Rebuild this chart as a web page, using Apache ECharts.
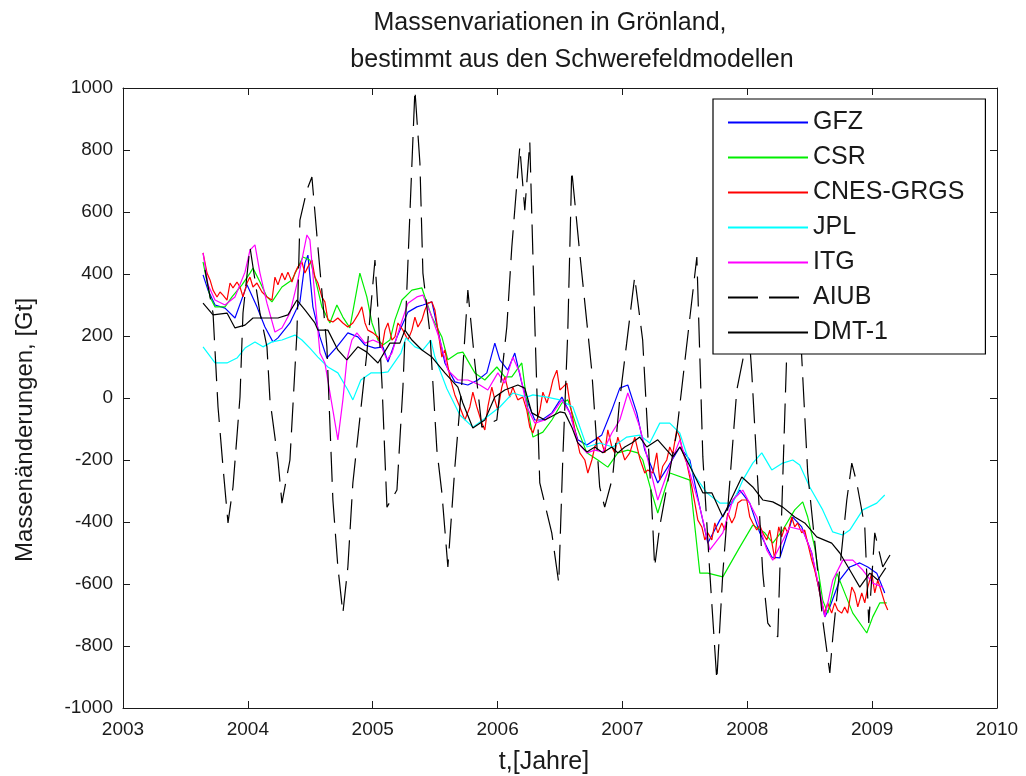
<!DOCTYPE html>
<html>
<head>
<meta charset="utf-8">
<script src="https://cdn.jsdelivr.net/npm/echarts@6/dist/echarts.min.js"></script>
<style>
  html, body { margin: 0; padding: 0; background: #fff; }
  #chart { width: 1026px; height: 776px; }
</style>
</head>
<body>
<div id="chart"></div>
<script>
// Mass change over Greenland [Gt] from several gravity field solutions, as [year, value]
const GFZ = [[2003.641,397],[2003.681,348],[2003.737,300],[2003.817,290],[2003.897,258],[2003.993,365],[2004.073,294],[2004.137,229],[2004.201,181],[2004.241,194],[2004.337,242],[2004.417,310],[2004.457,435],[2004.481,461],[2004.521,294],[2004.577,197],[2004.633,129],[2004.713,165],[2004.801,210],[2004.881,197],[2004.938,171],[2005.018,161],[2005.082,165],[2005.122,116],[2005.194,197],[2005.282,277],[2005.354,294],[2005.402,300],[2005.474,310],[2005.522,219],[2005.578,113],[2005.658,52],[2005.762,42],[2005.842,58],[2005.914,81],[2005.978,177],[2006.018,123],[2006.082,90],[2006.138,145],[2006.194,48],[2006.243,-16],[2006.298,-71],[2006.355,-71],[2006.435,-48],[2006.515,3],[2006.579,-48],[2006.643,-135],[2006.715,-152],[2006.779,-135],[2006.835,-119],[2006.915,-39],[2006.979,32],[2007.043,42],[2007.115,-48],[2007.179,-168],[2007.283,-274],[2007.363,-223],[2007.460,-158],[2007.540,-200],[2007.620,-352],[2007.684,-468],[2007.780,-394],[2007.940,-297],[2008.020,-339],[2008.100,-435],[2008.196,-513],[2008.260,-516],[2008.364,-384],[2008.436,-416],[2008.516,-500],[2008.580,-629],[2008.621,-706],[2008.661,-674],[2008.741,-587],[2008.821,-545],[2008.901,-532],[2008.965,-545],[2009.037,-565],[2009.101,-629]];

const CSR = [[2003.641,439],[2003.697,326],[2003.737,294],[2003.817,294],[2003.873,326],[2003.953,365],[2004.017,403],[2004.041,419],[2004.097,374],[2004.153,326],[2004.193,310],[2004.273,358],[2004.353,381],[2004.417,435],[2004.441,455],[2004.497,445],[2004.537,390],[2004.593,294],[2004.657,242],[2004.713,300],[2004.761,261],[2004.817,226],[2004.897,403],[2004.953,326],[2004.994,242],[2005.042,187],[2005.082,171],[2005.138,187],[2005.178,252],[2005.234,316],[2005.314,348],[2005.394,355],[2005.418,326],[2005.474,261],[2005.554,197],[2005.602,123],[2005.682,145],[2005.722,148],[2005.818,81],[2005.898,58],[2005.994,100],[2006.058,68],[2006.114,68],[2006.194,113],[2006.243,-39],[2006.283,-126],[2006.363,-110],[2006.435,-71],[2006.515,-16],[2006.563,-6],[2006.635,-94],[2006.715,-177],[2006.803,-200],[2006.883,-223],[2006.963,-177],[2007.043,-168],[2007.123,-177],[2007.163,-200],[2007.235,-306],[2007.283,-371],[2007.380,-242],[2007.540,-265],[2007.620,-565],[2007.684,-565],[2007.804,-577],[2007.940,-481],[2008.044,-410],[2008.140,-435],[2008.204,-468],[2008.284,-426],[2008.380,-361],[2008.444,-335],[2008.484,-384],[2008.540,-481],[2008.604,-652],[2008.645,-694],[2008.717,-565],[2008.845,-694],[2008.957,-758],[2009.005,-706],[2009.061,-661],[2009.117,-661]];

const CNES_GRGS = [[2003.641,468],[2003.673,403],[2003.697,381],[2003.721,348],[2003.753,326],[2003.777,342],[2003.801,332],[2003.833,316],[2003.857,371],[2003.881,355],[2003.913,374],[2003.937,358],[2003.961,326],[2003.993,371],[2004.017,390],[2004.041,358],[2004.073,371],[2004.113,342],[2004.153,326],[2004.193,316],[2004.217,390],[2004.241,365],[2004.273,403],[2004.297,381],[2004.321,406],[2004.353,374],[2004.377,403],[2004.401,423],[2004.433,439],[2004.457,403],[2004.481,423],[2004.513,445],[2004.537,390],[2004.561,371],[2004.593,326],[2004.617,310],[2004.641,252],[2004.681,245],[2004.721,258],[2004.761,242],[2004.801,229],[2004.841,242],[2004.881,268],[2004.913,294],[2004.938,242],[2004.961,219],[2005.002,210],[2005.042,197],[2005.074,161],[2005.098,219],[2005.122,242],[2005.154,187],[2005.178,197],[2005.202,242],[2005.242,219],[2005.282,187],[2005.314,219],[2005.338,261],[2005.362,229],[2005.394,252],[2005.418,284],[2005.442,306],[2005.474,310],[2005.498,284],[2005.522,219],[2005.554,132],[2005.578,155],[2005.618,68],[2005.658,10],[2005.698,-29],[2005.738,-71],[2005.778,-29],[2005.802,19],[2005.834,-29],[2005.874,-81],[2005.898,-103],[2005.922,-29],[2005.954,35],[2005.978,-6],[2006.002,-39],[2006.034,35],[2006.058,68],[2006.098,3],[2006.122,35],[2006.162,-6],[2006.202,3],[2006.234,-39],[2006.258,-94],[2006.283,-113],[2006.315,-71],[2006.339,-39],[2006.363,19],[2006.395,-16],[2006.419,16],[2006.443,58],[2006.475,90],[2006.499,26],[2006.523,35],[2006.555,48],[2006.579,-16],[2006.619,-103],[2006.659,-177],[2006.699,-200],[2006.723,-242],[2006.755,-200],[2006.779,-158],[2006.803,-126],[2006.835,-145],[2006.859,-177],[2006.883,-103],[2006.915,-158],[2006.939,-177],[2006.963,-126],[2006.995,-168],[2007.019,-200],[2007.059,-177],[2007.099,-126],[2007.139,-195],[2007.179,-242],[2007.203,-232],[2007.243,-242],[2007.275,-177],[2007.299,-265],[2007.323,-220],[2007.355,-200],[2007.379,-158],[2007.403,-180],[2007.435,-103],[2007.459,-126],[2007.483,-175],[2007.515,-210],[2007.556,-287],[2007.580,-339],[2007.604,-394],[2007.636,-416],[2007.660,-458],[2007.684,-435],[2007.716,-458],[2007.740,-403],[2007.764,-435],[2007.796,-403],[2007.820,-426],[2007.844,-371],[2007.876,-403],[2007.900,-384],[2007.924,-339],[2007.956,-329],[2007.996,-329],[2008.020,-384],[2008.044,-403],[2008.076,-426],[2008.100,-410],[2008.124,-435],[2008.156,-458],[2008.180,-426],[2008.220,-520],[2008.236,-458],[2008.252,-416],[2008.276,-448],[2008.300,-416],[2008.324,-435],[2008.356,-384],[2008.380,-416],[2008.404,-403],[2008.436,-435],[2008.460,-426],[2008.484,-468],[2008.516,-523],[2008.540,-555],[2008.564,-597],[2008.596,-661],[2008.620,-694],[2008.644,-661],[2008.676,-694],[2008.700,-661],[2008.724,-684],[2008.756,-694],[2008.780,-674],[2008.804,-694],[2008.837,-610],[2008.861,-629],[2008.885,-674],[2008.917,-629],[2008.941,-661],[2008.965,-610],[2008.997,-565],[2009.021,-629],[2009.045,-587],[2009.077,-629],[2009.101,-661],[2009.125,-684]];

const JPL = [[2003.641,165],[2003.737,113],[2003.833,113],[2003.913,129],[2003.977,161],[2004.057,181],[2004.121,165],[2004.193,181],[2004.273,187],[2004.377,203],[2004.433,187],[2004.497,161],[2004.561,132],[2004.641,100],[2004.721,81],[2004.801,26],[2004.841,-6],[2004.905,58],[2004.985,81],[2005.066,81],[2005.122,84],[2005.226,145],[2005.266,194],[2005.338,165],[2005.402,155],[2005.466,187],[2005.498,132],[2005.594,30],[2005.698,-55],[2005.802,-94],[2005.914,-61],[2006.018,-29],[2006.122,16],[2006.235,3],[2006.283,10],[2006.395,3],[2006.499,-6],[2006.603,-29],[2006.715,-158],[2006.819,-145],[2006.923,-158],[2007.035,-126],[2007.139,-120],[2007.219,-145],[2007.299,-81],[2007.379,-81],[2007.459,-113],[2007.564,-242],[2007.676,-306],[2007.780,-339],[2007.884,-339],[2007.964,-265],[2008.044,-210],[2008.116,-177],[2008.196,-232],[2008.284,-210],[2008.364,-200],[2008.420,-216],[2008.500,-287],[2008.604,-361],[2008.684,-432],[2008.764,-442],[2008.821,-426],[2008.925,-361],[2009.037,-339],[2009.101,-313]];

const ITG = [[2003.641,468],[2003.681,365],[2003.737,316],[2003.817,300],[2003.897,326],[2003.977,406],[2004.017,477],[2004.057,494],[2004.097,403],[2004.153,306],[2004.217,213],[2004.273,226],[2004.337,274],[2004.401,381],[2004.473,526],[2004.497,510],[2004.537,326],[2004.577,145],[2004.617,113],[2004.681,-39],[2004.721,-135],[2004.761,-6],[2004.793,123],[2004.833,187],[2004.873,210],[2004.938,177],[2005.002,187],[2005.058,177],[2005.114,123],[2005.154,145],[2005.218,229],[2005.282,306],[2005.354,326],[2005.402,332],[2005.474,261],[2005.538,187],[2005.602,90],[2005.682,58],[2005.762,58],[2005.858,42],[2005.922,26],[2006.002,81],[2006.058,48],[2006.122,132],[2006.178,81],[2006.235,-29],[2006.298,-81],[2006.379,-71],[2006.443,-48],[2006.515,-6],[2006.579,-48],[2006.643,-145],[2006.715,-177],[2006.779,-168],[2006.843,-174],[2006.915,-113],[2006.979,-71],[2007.043,16],[2007.139,-94],[2007.283,-329],[2007.396,-200],[2007.460,-135],[2007.540,-242],[2007.620,-352],[2007.700,-490],[2007.804,-435],[2007.884,-329],[2007.964,-297],[2008.076,-384],[2008.156,-490],[2008.204,-523],[2008.340,-416],[2008.444,-426],[2008.516,-500],[2008.597,-652],[2008.621,-706],[2008.685,-587],[2008.765,-523],[2008.845,-523],[2008.925,-555],[2009.005,-597],[2009.085,-610]];

const AIUB = [[2003.657,413],[2003.721,274],[2003.761,-29],[2003.801,-223],[2003.841,-403],[2003.881,-287],[2003.937,3],[2003.961,274],[2004.017,487],[2004.097,274],[2004.153,165],[2004.177,-6],[2004.241,-200],[2004.273,-339],[2004.337,-200],[2004.393,210],[2004.417,574],[2004.473,671],[2004.513,713],[2004.561,487],[2004.633,165],[2004.681,-329],[2004.721,-545],[2004.761,-694],[2004.801,-545],[2004.841,-274],[2004.913,-6],[2004.953,145],[2005.018,445],[2005.042,284],[2005.074,48],[2005.114,-352],[2005.194,-297],[2005.242,35],[2005.298,597],[2005.338,994],[2005.378,758],[2005.402,403],[2005.458,210],[2005.514,-168],[2005.554,-306],[2005.602,-545],[2005.658,-223],[2005.714,48],[2005.762,348],[2005.818,113],[2005.874,-94],[2005.994,-71],[2006.074,229],[2006.114,487],[2006.178,810],[2006.218,606],[2006.258,826],[2006.298,242],[2006.338,-274],[2006.434,-435],[2006.490,-597],[2006.522,-200],[2006.562,210],[2006.594,735],[2006.658,468],[2006.754,90],[2006.818,-287],[2006.858,-352],[2006.922,-255],[2006.978,-6],[2007.034,177],[2007.098,390],[2007.162,187],[2007.242,-403],[2007.258,-545],[2007.298,-416],[2007.434,-113],[2007.596,455],[2007.644,-190],[2007.700,-565],[2007.756,-910],[2007.804,-565],[2007.916,26],[2008.012,220],[2008.036,81],[2008.124,-565],[2008.164,-726],[2008.244,-771],[2008.316,145],[2008.372,703],[2008.436,132],[2008.484,-242],[2008.604,-716],[2008.661,-887],[2008.685,-771],[2008.797,-329],[2008.837,-210],[2008.877,-274],[2008.941,-416],[2008.973,-726],[2009.021,-435],[2009.085,-545],[2009.157,-497]];

const DMT_1 = [[2003.641,306],[2003.721,268],[2003.833,274],[2003.897,226],[2003.977,235],[2004.041,258],[2004.113,258],[2004.241,258],[2004.321,268],[2004.393,316],[2004.457,284],[2004.537,242],[2004.561,219],[2004.641,219],[2004.721,155],[2004.793,123],[2004.881,165],[2004.953,148],[2005.042,113],[2005.138,177],[2005.218,177],[2005.258,219],[2005.314,187],[2005.394,155],[2005.474,132],[2005.578,81],[2005.682,35],[2005.722,-16],[2005.802,-97],[2005.898,-71],[2005.978,3],[2006.058,26],[2006.162,42],[2006.218,32],[2006.274,-48],[2006.379,-71],[2006.499,-45],[2006.539,-48],[2006.595,-94],[2006.643,-145],[2006.715,-174],[2006.779,-158],[2006.843,-177],[2006.915,-158],[2006.963,-177],[2007.019,-158],[2007.075,-145],[2007.139,-126],[2007.195,-158],[2007.283,-135],[2007.403,-190],[2007.460,-158],[2007.556,-232],[2007.644,-306],[2007.716,-306],[2007.804,-384],[2007.956,-255],[2008.044,-287],[2008.124,-329],[2008.204,-335],[2008.284,-352],[2008.380,-384],[2008.460,-403],[2008.556,-448],[2008.676,-468],[2008.741,-500],[2008.821,-555],[2008.901,-610],[2008.981,-565],[2009.045,-587],[2009.109,-548]];

const seriesNames = ['GFZ', 'CSR', 'CNES-GRGS', 'JPL', 'ITG', 'AIUB', 'DMT-1'];
const seriesData = [GFZ, CSR, CNES_GRGS, JPL, ITG, AIUB, DMT_1];
const seriesColors = ['#0000ff', '#00ee00', '#ff0000', '#00ffff', '#ff00ff', '#000000', '#000000'];
const seriesDash = ['solid', 'solid', 'solid', 'solid', 'solid', [30, 11], 'solid'];

const titleLines = ['Massenvariationen in Grönland,', 'bestimmt aus den Schwerefeldmodellen'];
const xTicks = { min: 2003, max: 2010, step: 1 };
const yTicks = { min: -1000, max: 1000, step: 200 };

const FONT = '"Liberation Sans", Arial, sans-serif';
const INK = '#1a1a1a';

const chart = echarts.init(document.getElementById('chart'), null, { renderer: 'canvas' });

const tickStyle = { show: true, inside: true, length: 7, lineStyle: { color: INK, width: 1 } };
const lineAxis = { show: true, onZero: false, lineStyle: { color: INK, width: 1 } };
const plain = v => String(v);

chart.setOption({
  animation: false,
  backgroundColor: '#ffffff',
  title: [
    { text: titleLines[0], left: 545, top: 6, textAlign: 'center',
      textStyle: { fontFamily: FONT, fontSize: 25, fontWeight: 'normal', color: INK } },
    { text: titleLines[1], left: 567, top: 43, textAlign: 'center',
      textStyle: { fontFamily: FONT, fontSize: 25, fontWeight: 'normal', color: INK } }
  ],
  grid: { left: 123, right: 29, top: 88, bottom: 68, containLabel: false, outerBoundsMode: 'none' },
  legend: {
    orient: 'vertical',
    left: 713, top: 99,
    data: seriesNames,
    backgroundColor: '#ffffff',
    borderColor: '#000000',
    borderWidth: 1.2,
    borderRadius: 0,
    padding: [11, 21, 9, 14],
    itemWidth: 80,
    itemHeight: 14,
    itemGap: 10,
    itemStyle: { opacity: 0 },
    textStyle: { fontFamily: FONT, fontSize: 25, color: INK, lineHeight: 25 },
    selectedMode: false,
    z: 10
  },
  xAxis: [
    { type: 'value', min: xTicks.min, max: xTicks.max, interval: xTicks.step, position: 'bottom',
      name: 't,[Jahre]', nameLocation: 'middle', nameGap: 42,
      nameTextStyle: { fontFamily: FONT, fontSize: 25, color: INK, padding: [0, 32, 0, 0] },
      axisLine: lineAxis, axisTick: tickStyle, splitLine: { show: false },
      axisLabel: { fontFamily: FONT, fontSize: 19, color: INK, margin: 12, formatter: plain } },
    { type: 'value', min: xTicks.min, max: xTicks.max, interval: xTicks.step, position: 'top',
      axisLine: lineAxis, axisTick: tickStyle, splitLine: { show: false }, axisLabel: { show: false } }
  ],
  yAxis: [
    { type: 'value', min: yTicks.min, max: yTicks.max, interval: yTicks.step, position: 'left',
      name: 'Massenänderungen, [Gt]', nameLocation: 'middle', nameGap: 86,
      nameTextStyle: { fontFamily: FONT, fontSize: 24, color: INK, padding: [0, 64, 0, 0] },
      axisLine: lineAxis, axisTick: tickStyle, splitLine: { show: false },
      axisLabel: { fontFamily: FONT, fontSize: 19, color: INK, margin: 10, formatter: plain } },
    { type: 'value', min: yTicks.min, max: yTicks.max, interval: yTicks.step, position: 'right',
      axisLine: lineAxis, axisTick: tickStyle, splitLine: { show: false }, axisLabel: { show: false } }
  ],
  series: seriesNames.map((name, i) => ({
    name: name,
    type: 'line',
    xAxisIndex: 0,
    yAxisIndex: 0,
    data: seriesData[i],
    showSymbol: false,
    symbol: 'none',
    smooth: false,
    color: seriesColors[i],
    lineStyle: { color: seriesColors[i], width: 1.2, type: seriesDash[i] },
    emphasis: { disabled: true },
    z: 2 + i * 0.01
  }))
});
</script>
</body>
</html>
